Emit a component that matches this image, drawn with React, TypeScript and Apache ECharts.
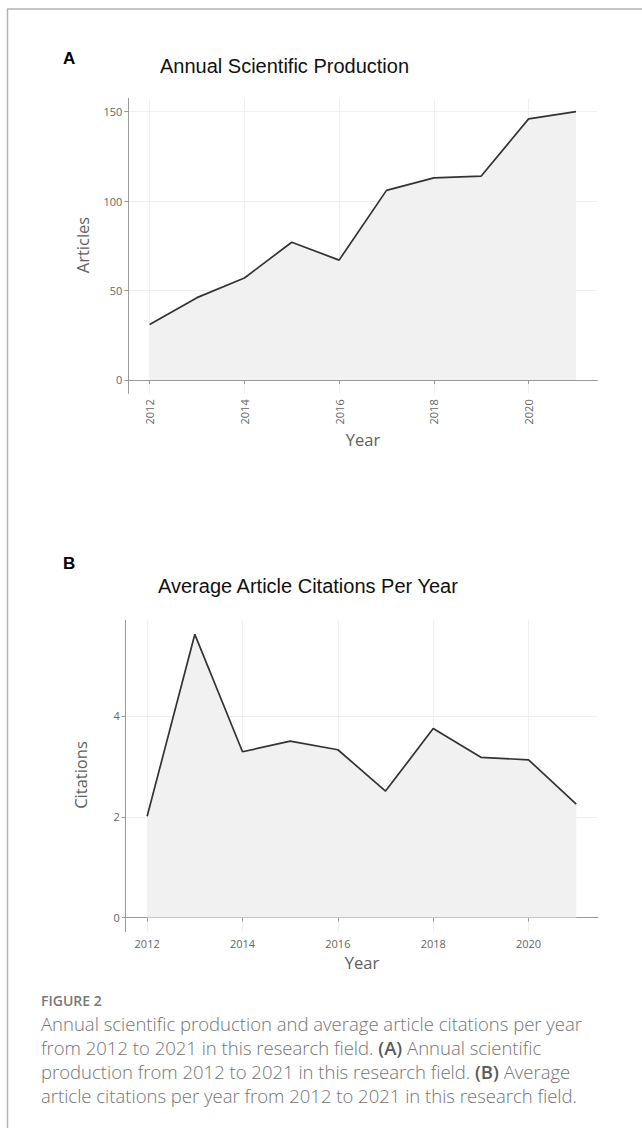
import React, { useEffect, useRef } from "react";
import * as echarts from "echarts";

const years = [2012, 2013, 2014, 2015, 2016, 2017, 2018, 2019, 2020, 2021];
const articles = [31, 46, 57, 77, 67, 106, 113, 114, 146, 150];
const citations = [2.01, 5.62, 3.29, 3.5, 3.33, 2.51, 3.75, 3.18, 3.13, 2.25];
const xTicks = [2012, 2014, 2016, 2018, 2020];
const articleTicks = [0, 50, 100, 150];
const citationTicks = [0, 2, 4];

const titleA = "Annual Scientific Production";
const titleB = "Average Article Citations Per Year";
const captionHead = "FIGURE 2";
const captionLines = [
  "{n|Annual scientific production and average article citations per year}",
  "{n|from 2012 to 2021 in this research field. }{b|(A)}{n| Annual scientific}",
  "{n|production from 2012 to 2021 in this research field. }{b|(B)}{n| Average}",
  "{n|article citations per year from 2012 to 2021 in this research field.}",
];

const W = 642;
const H = 1128;
const tickFont = "Open Sans";
const axisGray = "#9a9a9a";

function xAxisOpt(gridIndex: number, rotate: number) {
  return {
    type: "value",
    gridIndex,
    min: 2011.55,
    max: 2021.45,
    axisLine: { show: true, lineStyle: { color: axisGray, width: 1 } },
    axisTick: { show: true, length: 4, lineStyle: { color: axisGray }, customValues: xTicks },
    axisLabel: {
      customValues: xTicks,
      rotate,
      margin: 6,
      color: "#666666",
      fontFamily: tickFont,
      fontSize: 11,
      formatter: (v: number) => String(v),
    },
    splitLine: { show: true, lineStyle: { color: "#efefef", width: 1 } },
  };
}

function yAxisOpt(gridIndex: number, min: number, max: number, ticks: number[]) {
  return {
    type: "value",
    gridIndex,
    min,
    max,
    axisLine: { show: true, lineStyle: { color: axisGray, width: 1 } },
    axisTick: { show: true, length: 4, lineStyle: { color: axisGray }, customValues: ticks },
    axisLabel: {
      customValues: ticks,
      margin: 6,
      color: "#666666",
      fontFamily: tickFont,
      fontSize: 11,
    },
    splitLine: { show: true, lineStyle: { color: "#efefef", width: 1 } },
  };
}

function seriesOpt(idx: number, values: number[]) {
  return {
    type: "line",
    xAxisIndex: idx,
    yAxisIndex: idx,
    data: years.map((y, i) => [y, values[i]]),
    showSymbol: false,
    symbol: "none",
    lineStyle: { color: "#333333", width: 1.7 },
    areaStyle: { color: "#f1f1f1", opacity: 1 },
    z: 3,
  };
}

export default function App() {
  const ref = useRef<HTMLDivElement>(null);
  useEffect(() => {
    if (!ref.current) return;
    const chart = echarts.init(ref.current, undefined, { renderer: "svg" });
    const titleStyle = {
      fill: "#111111",
      fontFamily: "Liberation Sans",
      fontSize: 20,
      align: "left",
      verticalAlign: "middle",
    };
    const panelLetter = {
      fill: "#000000",
      fontFamily: "Liberation Sans",
      fontWeight: "bold",
      fontSize: 17,
      align: "left",
      verticalAlign: "middle",
    };
    const axisTitle = {
      fill: "#606060",
      fontFamily: "Open Sans",
      fontSize: 16.5,
      align: "center",
      verticalAlign: "middle",
    };
    const capRich = {
      n: { fill: "#747474", fontFamily: "Open Sans", fontSize: 18.5, fontWeight: 300 },
      b: { fill: "#5a5a5a", fontFamily: "Open Sans", fontSize: 18.5, fontWeight: 600 },
    };
    const graphic: any[] = [
      { type: "line", shape: { x1: 7, y1: 9, x2: W, y2: 9 }, style: { stroke: "#b3b3b3", lineWidth: 1.5 } },
      { type: "line", shape: { x1: 7.5, y1: 9, x2: 7.5, y2: H }, style: { stroke: "#b3b3b3", lineWidth: 1.5 } },
      { type: "text", x: 63, y: 58, style: { ...panelLetter, text: "A" } },
      { type: "text", x: 160, y: 66, style: { ...titleStyle, text: titleA } },
      { type: "text", x: 82, y: 245, rotation: Math.PI / 2, style: { ...axisTitle, text: "Articles" } },
      { type: "text", x: 363, y: 439, style: { ...axisTitle, text: "Year" } },
      { type: "text", x: 63, y: 563, style: { ...panelLetter, text: "B" } },
      { type: "text", x: 158, y: 586, style: { ...titleStyle, text: titleB } },
      { type: "text", x: 80, y: 775, rotation: Math.PI / 2, style: { ...axisTitle, text: "Citations" } },
      { type: "text", x: 362, y: 962, style: { ...axisTitle, text: "Year" } },
      {
        type: "text",
        x: 41,
        y: 1000,
        style: {
          text: captionHead,
          fill: "#787878",
          fontFamily: "Open Sans",
          fontWeight: 600,
          fontSize: 14,
          align: "left",
          verticalAlign: "middle",
        },
      },
    ];
    captionLines.forEach((line, i) => {
      graphic.push({
        type: "text",
        x: 41,
        y: 1023 + i * 24,
        style: { text: line, rich: capRich, align: "left", verticalAlign: "middle" },
      });
    });

    chart.setOption({
      animation: false,
      backgroundColor: "#ffffff",
      grid: [
        { left: 128.3, top: 98.3, width: 469, height: 295, containLabel: false },
        { left: 125.7, top: 620.2, width: 472, height: 311.5, containLabel: false },
      ],
      xAxis: [xAxisOpt(0, 90), xAxisOpt(1, 0)],
      yAxis: [
        yAxisOpt(0, -7.5, 157.5, articleTicks),
        yAxisOpt(1, -0.28, 5.9, citationTicks),
      ],
      series: [seriesOpt(0, articles), seriesOpt(1, citations)],
      graphic,
    });
    return () => chart.dispose();
  }, []);
  return (
    <div
      ref={ref}
      style={{ position: "absolute", left: 0, top: 0, width: W, height: H, background: "#fff" }}
    />
  );
}
